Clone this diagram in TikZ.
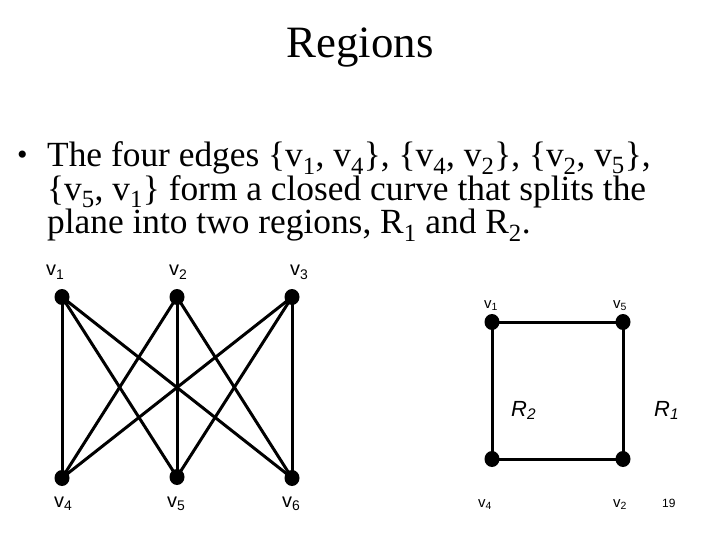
\documentclass[tikz,border=0pt]{standalone}
\usepackage{fontspec}
\setmainfont{Liberation Serif}
\newfontfamily\arialfont{Liberation Sans}
\usetikzlibrary{positioning,shapes.geometric}

\begin{document}
\begin{tikzpicture}[
    x=1bp, y=-1bp,
    vertex/.style={ellipse, fill=black, inner sep=0pt,
                   minimum width=15bp, minimum height=16bp},
    edge/.style={line width=3bp},
    bodytext/.style={anchor=base west, inner sep=0pt, align=left,
                     font=\fontsize{35.5}{34}\selectfont},
    vlabel/.style={anchor=base west, inner sep=0pt,
                   font=\arialfont\fontsize{20}{22}\selectfont},
    slabel/.style={anchor=base west, inner sep=0pt,
                   font=\arialfont\fontsize{15}{17}\selectfont},
    rlabel/.style={anchor=base west, inner sep=0pt,
                   font=\arialfont\itshape\fontsize{22}{24}\selectfont}
  ]
  \useasboundingbox (0,0) rectangle (720,540);

  % ── title and text ──────────────────────────────────────────────
  \node[anchor=base, inner sep=0pt, font=\fontsize{45}{48}\selectfont]
    (title) at (360,58) {Regions};

  \node[anchor=base west, inner sep=0pt, font=\fontsize{30}{32}\selectfont]
    (bullet) at (17,165) {\textbullet};
  % body: anchored at the baseline of its last line
  \node[bodytext] (body) at (47,234)
    {The four edges \{v\textsubscript{1}, v\textsubscript{4}\}, \{v\textsubscript{4}, v\textsubscript{2}\}, \{v\textsubscript{2}, v\textsubscript{5}\},\\
     \{v\textsubscript{5}, v\textsubscript{1}\} form a closed curve that splits the\\
     plane into two regions, R\textsubscript{1} and R\textsubscript{2}.};

  % ── left graph ──────────────────────────────────────────────────
  \node[vertex] (l1) at (62,297) {};
  \node[vertex] (l2) at (177,297) {};
  \node[vertex] (l3) at (292,297) {};
  \node[vertex] (l4) at (62,478) {};
  \node[vertex] (l5) at (177,477) {};
  \node[vertex] (l6) at (292,478) {};

  \foreach \a in {1,2,3}
    \foreach \b in {4,5,6}
      \draw[edge] (l\a.center) -- (l\b.center);

  \node[vlabel] (lv1) at (46,276)  {v\textsubscript{1}};
  \node[vlabel] (lv2) at (169,276) {v\textsubscript{2}};
  \node[vlabel] (lv3) at (290,276) {v\textsubscript{3}};
  \node[vlabel] (lv4) at (54,507)  {v\textsubscript{4}};
  \node[vlabel] (lv5) at (167,507) {v\textsubscript{5}};
  \node[vlabel] (lv6) at (282,507) {v\textsubscript{6}};

  % ── right square ────────────────────────────────────────────────
  \node[vertex] (r1) at (492,322) {};
  \node[vertex] (r5) at (623,322) {};
  \node[vertex] (r4) at (492,459) {};
  \node[vertex] (r2) at (623,459) {};

  \draw[edge] (r1.center) -- (r5.center) -- (r2.center)
              -- (r4.center) -- cycle;

  \node[slabel] (rv1) at (484,308) {v\textsubscript{1}};
  \node[slabel] (rv5) at (613,308) {v\textsubscript{5}};
  \node[slabel] (rv4) at (478,507) {v\textsubscript{4}};
  \node[slabel] (rv2) at (613,507) {v\textsubscript{2}};

  \node[rlabel] (reg2) at (511,416) {R\textsubscript{2}};
  \node[rlabel] (reg1) at (654,416) {R\textsubscript{1}};

  \node[anchor=base west, inner sep=0pt,
        font=\arialfont\fontsize{12}{14}\selectfont] (page) at (662,507) {19};

\end{tikzpicture}
\end{document}
